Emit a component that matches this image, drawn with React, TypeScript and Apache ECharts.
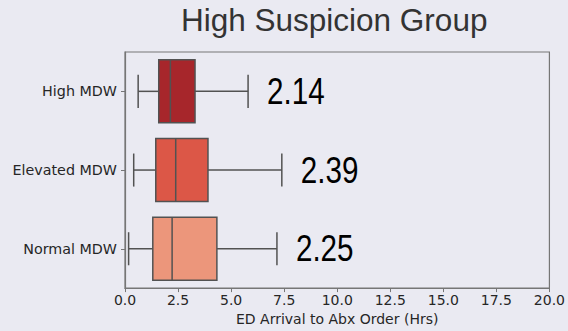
import React, { useEffect, useRef } from "react";
import * as echarts from "echarts";

const categories = ["High MDW", "Elevated MDW", "Normal MDW"];
const whiskerLow = [0.62, 0.41, 0.17];
const quartile1 = [1.59, 1.45, 1.31];
const medians = [2.14, 2.39, 2.22];
const quartile3 = [3.3, 3.91, 4.33];
const whiskerHigh = [5.8, 7.39, 7.16];
const medianLabels = ["2.14", "2.39", "2.25"];
const xTickValues = [0, 2.5, 5, 7.5, 10, 12.5, 15, 17.5, 20];

const boxColors = ["#a7262b", "#dc5747", "#ec967b"];
const BG = "#eaeaf2";
const EDGE = "#525252";

export default function App() {
  const ref = useRef<HTMLDivElement>(null);
  useEffect(() => {
    if (!ref.current) return;
    const chart = echarts.init(ref.current, undefined, { renderer: "svg" });
    const data = categories.map((_, i) => [
      i,
      whiskerLow[i],
      quartile1[i],
      medians[i],
      quartile3[i],
      whiskerHigh[i],
    ]);
    chart.setOption({
      animation: false,
      backgroundColor: BG,
      title: {
        text: "High Suspicion Group",
        left: 181,
        top: 4,
        padding: 0,
        textStyle: {
          fontFamily: "'Liberation Sans', Arial, sans-serif",
          fontSize: 31.5,
          fontWeight: "normal",
          color: "#333333",
        },
      },
      grid: {
        left: 125,
        right: 16,
        top: 52,
        bottom: 42,
        show: true,
        borderColor: "#767676",
        borderWidth: 1.2,
        backgroundColor: "transparent",
      },
      xAxis: {
        type: "value",
        min: xTickValues[0],
        max: xTickValues[xTickValues.length - 1],
        interval: xTickValues[1] - xTickValues[0],
        name: "ED Arrival to Abx Order (Hrs)",
        nameLocation: "middle",
        nameGap: 23,
        nameTextStyle: {
          fontFamily: "'DejaVu Sans', sans-serif",
          fontSize: 14,
          color: "#262626",
        },
        axisLine: { show: true, lineStyle: { color: "#767676", width: 1.2 } },
        axisTick: { show: true, length: 4, lineStyle: { color: "#767676" } },
        axisLabel: {
          margin: 5,
          fontFamily: "'DejaVu Sans', sans-serif",
          fontSize: 14,
          color: "#262626",
          formatter: (v: number) => v.toFixed(1),
        },
        splitLine: { show: false },
      },
      yAxis: {
        type: "category",
        data: categories,
        inverse: true,
        axisLine: { show: true, lineStyle: { color: "#767676", width: 1.2 } },
        axisTick: {
          show: true,
          length: 4,
          alignWithLabel: true,
          lineStyle: { color: "#767676" },
        },
        axisLabel: {
          margin: 8,
          fontFamily: "'DejaVu Sans', sans-serif",
          fontSize: 14.3,
          color: "#262626",
        },
        splitLine: { show: false },
      },
      series: [
        {
          type: "custom",
          encode: { x: [1, 2, 3, 4, 5], y: 0 },
          data,
          renderItem: (params: any, api: any) => {
            const cat = api.value(0);
            const lo = api.coord([api.value(1), cat]);
            const a = api.coord([api.value(2), cat]);
            const m = api.coord([api.value(3), cat]);
            const b = api.coord([api.value(4), cat]);
            const hi = api.coord([api.value(5), cat]);
            const band = api.size([0, 1])[1];
            const bh = band * 0.8;
            const ch = band * 0.42;
            const y = lo[1];
            const ls = { stroke: EDGE, lineWidth: 1.5 };
            const idx = params.dataIndex;
            return {
              type: "group",
              children: [
                { type: "line", shape: { x1: lo[0], y1: y, x2: a[0], y2: y }, style: ls },
                { type: "line", shape: { x1: b[0], y1: y, x2: hi[0], y2: y }, style: ls },
                { type: "line", shape: { x1: lo[0], y1: y - ch / 2, x2: lo[0], y2: y + ch / 2 }, style: ls },
                { type: "line", shape: { x1: hi[0], y1: y - ch / 2, x2: hi[0], y2: y + ch / 2 }, style: ls },
                {
                  type: "rect",
                  shape: { x: a[0], y: y - bh / 2, width: b[0] - a[0], height: bh },
                  style: { fill: boxColors[idx], stroke: EDGE, lineWidth: 1.5 },
                },
                { type: "line", shape: { x1: m[0], y1: y - bh / 2, x2: m[0], y2: y + bh / 2 }, style: ls },
                {
                  type: "text",
                  x: hi[0] + 19,
                  y: y,
                  scaleX: 0.8,
                  style: {
                    text: medianLabels[idx],
                    fill: "#000000",
                    fontSize: 37,
                    fontFamily: "'Liberation Sans', Arial, sans-serif",
                    align: "left",
                    verticalAlign: "middle",
                  },
                },
              ],
            };
          },
        },
      ],
    });
    return () => chart.dispose();
  }, []);
  return (
    <div
      ref={ref}
      style={{ position: "fixed", left: 0, top: 0, width: 568, height: 331, background: BG }}
    />
  );
}
